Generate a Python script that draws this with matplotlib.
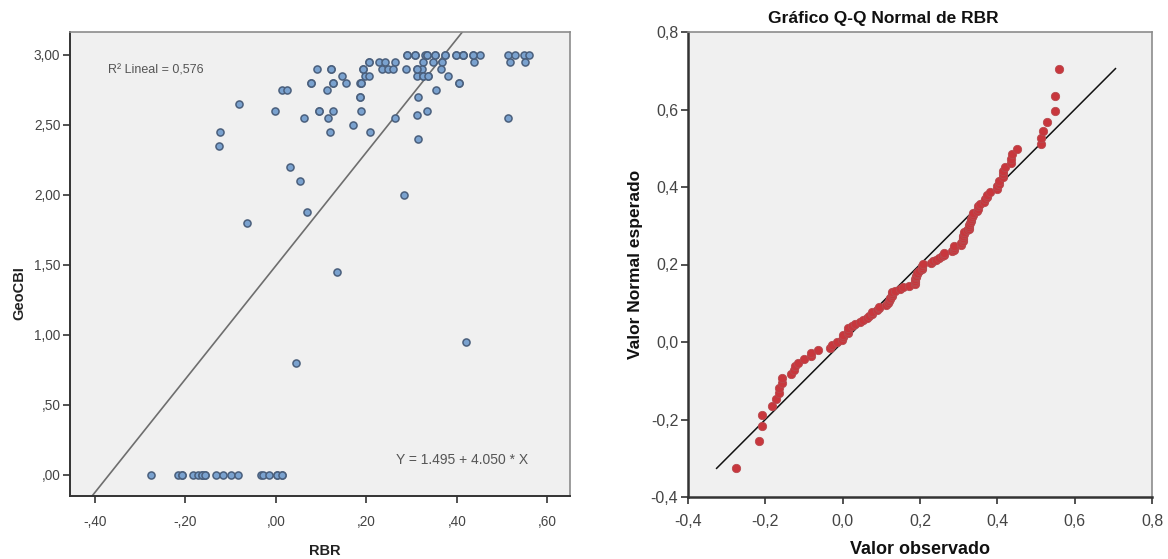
import matplotlib
matplotlib.use("Agg")
import matplotlib.pyplot as plt
from matplotlib.ticker import FuncFormatter, FixedLocator
from statistics import NormalDist, mean, stdev

plt.rcParams['font.family'] = ['Liberation Sans', 'DejaVu Sans']

# RBR (x) and GeoCBI (y) for each plot
rbr = [
    # GeoCBI = 0
    -0.275, -0.216, -0.208, -0.183, -0.172, -0.164, -0.157, -0.133,
    -0.116, -0.100, -0.083, -0.032, -0.028, -0.015, 0.002, 0.013,
    # GeoCBI = 3.00
    0.289, 0.307, 0.329, 0.333, 0.351, 0.373, 0.399, 0.414, 0.436,
    0.451, 0.513, 0.529, 0.549, 0.559,
    # GeoCBI = 2.95
    0.206, 0.228, 0.241, 0.263, 0.326, 0.348, 0.368, 0.438, 0.518, 0.550,
    # GeoCBI = 2.90
    0.090, 0.122, 0.193, 0.234, 0.248, 0.258, 0.287, 0.311, 0.322, 0.366,
    # GeoCBI = 2.85
    0.147, 0.197, 0.206, 0.311, 0.326, 0.337, 0.381,
    # GeoCBI = 2.80
    0.077, 0.127, 0.155, 0.187, 0.189, 0.405,
    # GeoCBI = 2.75
    0.013, 0.024, 0.112, 0.354,
    # GeoCBI = 2.70 / 2.65
    0.187, 0.314, -0.082,
    # GeoCBI = 2.60
    -0.002, 0.095, 0.127, 0.188, 0.335,
    # GeoCBI = 2.55
    0.063, 0.116, 0.263, 0.312, 0.513,
    # GeoCBI = 2.50 / 2.45 / 2.40 / 2.35
    0.171, -0.124, 0.119, 0.208, 0.314, -0.125,
    # lower values
    0.031, 0.053, 0.284, 0.068, -0.063, 0.135, 0.420, 0.044,
    # coincident observations (markers drawn on top of each other)
    -0.208, -0.164, -0.157, 0.002, 0.013,
    0.077, 0.095, 0.122, 0.127,
    0.187, 0.189, 0.193, 0.206,
    0.289, 0.307, 0.333, 0.351, 0.373, 0.399, 0.414, 0.414, 0.436,
    0.311, 0.326, 0.337, 0.405,
]
geocbi = (
    [0.00] * 16
    + [3.00] * 14
    + [2.95] * 10
    + [2.90] * 10
    + [2.85] * 7
    + [2.80] * 6
    + [2.75] * 4
    + [2.70, 2.70, 2.65]
    + [2.60] * 5
    + [2.55, 2.55, 2.55, 2.57, 2.55]
    + [2.50, 2.45, 2.45, 2.45, 2.40, 2.35]
    + [2.20, 2.10, 2.00, 1.88, 1.80, 1.45, 0.95, 0.80]
    + [0.00] * 5
    + [2.80, 2.60, 2.90, 2.80]
    + [2.70, 2.80, 2.90, 2.95]
    + [3.00] * 9
    + [2.90, 2.85, 2.85, 2.80]
)

# fitted line as reported
intercept = 1.495
slope = 4.050
r2_text = "R² Lineal = 0,576"
eq_text = "Y = 1.495 + 4.050 * X"

left_xticks = [-0.4, -0.2, 0.0, 0.2, 0.4, 0.6]
left_yticks = [0.0, 0.5, 1.0, 1.5, 2.0, 2.5, 3.0]
right_ticks = [-0.4, -0.2, 0.0, 0.2, 0.4, 0.6, 0.8]


def spss_two(v, _pos=None):
    s = f"{v:.2f}".replace('.', ',')
    if s.startswith('0,'):
        s = s[1:]
    elif s.startswith('-0,'):
        s = '-' + s[2:]
    return s


def spss_one(v, _pos=None):
    s = f"{v:.1f}".replace('.', ',')
    return '0,0' if s == '-0,0' else s


W, H = 1168, 559
fig = plt.figure(figsize=(W / 100, H / 100), dpi=100)
fig.patch.set_facecolor('white')

face = '#f0f0f0'
dark = '#333333'
light = '#8c8c8c'
tick_col = '#444444'

# ---- scatter: GeoCBI vs RBR ----
ax1 = fig.add_axes([70 / W, 1 - 496 / H, 500 / W, 464 / H])
ax1.set_facecolor(face)
ax1.set_xlim(-0.455, 0.650)
ax1.set_ylim(-0.15, 3.164)
xs = [ax1.get_xlim()[0], ax1.get_xlim()[1]]
ax1.plot(xs, [intercept + slope * x for x in xs], color='#6e6e6e', lw=1.2, zorder=2)
ax1.scatter(rbr, geocbi, s=26, facecolor='#7aa2cf', edgecolor='#4a5f7c',
            linewidths=1.1, zorder=3)
ax1.text(0.076, 0.918, r2_text, transform=ax1.transAxes, fontsize=9,
         color='#555555', va='center', ha='left')
ax1.text(0.784, 0.078, eq_text, transform=ax1.transAxes, fontsize=10,
         color='#555555', va='center', ha='center')
ax1.xaxis.set_major_locator(FixedLocator(left_xticks))
ax1.yaxis.set_major_locator(FixedLocator(left_yticks))
ax1.xaxis.set_major_formatter(FuncFormatter(spss_two))
ax1.yaxis.set_major_formatter(FuncFormatter(spss_two))
ax1.set_xlabel('RBR', fontsize=10.5, fontweight='bold', color='#222222')
ax1.set_ylabel('GeoCBI', fontsize=10.5, fontweight='bold', color='#222222')
ax1.xaxis.set_label_coords(0.51, -0.104)
ax1.yaxis.set_label_coords(-0.088, 0.4375)

# ---- Q-Q normal plot of RBR (Blom proportions) ----
observed = sorted(rbr)
n = len(observed)
dist = NormalDist(mean(observed), stdev(observed))
expected = [dist.inv_cdf((i - 0.375) / (n + 0.25)) for i in range(1, n + 1)]

ax2 = fig.add_axes([688 / W, 1 - 497 / H, 464 / W, 465 / H])
ax2.set_facecolor(face)
ax2.set_xlim(-0.4, 0.8)
ax2.set_ylim(-0.4, 0.8)
lo, hi = min(expected), max(expected)
ax2.plot([lo, hi], [lo, hi], color='#111111', lw=1.1, zorder=2)
ax2.scatter(observed, expected, s=36, facecolor='#c8373d', edgecolor='#b84a4f',
            linewidths=0.6, zorder=3)
ax2.xaxis.set_major_locator(FixedLocator(right_ticks))
ax2.yaxis.set_major_locator(FixedLocator(right_ticks))
ax2.xaxis.set_major_formatter(FuncFormatter(spss_one))
ax2.yaxis.set_major_formatter(FuncFormatter(spss_one))
fig.text(883 / W, 1 - 18 / H, 'Gráfico Q-Q Normal de RBR', fontsize=12.5,
         fontweight='bold', color='#111111', ha='center', va='center')
ax2.set_xlabel('Valor observado', fontsize=13, fontweight='bold', color='#111111')
ax2.set_ylabel('Valor Normal esperado', fontsize=12.5, fontweight='bold', color='#111111')
ax2.xaxis.set_label_coords(0.5, -0.095)
ax2.yaxis.set_label_coords(-0.098, 0.5)

for ax, lw_main, fs, xpad in ((ax1, 1.4, 9.8, 9), (ax2, 1.8, 11.5, 7)):
    for side in ('left', 'bottom'):
        ax.spines[side].set_color(dark)
        ax.spines[side].set_linewidth(lw_main)
    for side in ('top', 'right'):
        ax.spines[side].set_color(light)
        ax.spines[side].set_linewidth(1.2)
    ax.tick_params(direction='out', length=5, width=1.2, color=dark,
                   labelsize=fs, labelcolor=tick_col, top=False, right=False)
    ax.tick_params(axis='x', pad=xpad)
    ax.tick_params(axis='y', pad=2)

fig.savefig('out.png', dpi=100, facecolor='white')
